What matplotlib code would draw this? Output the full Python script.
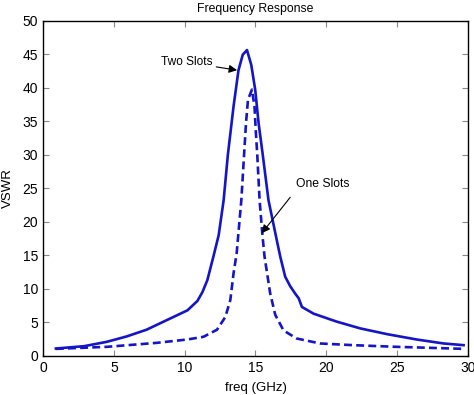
import matplotlib.pyplot as plt

plt.rcParams['font.family'] = ['Liberation Sans', 'DejaVu Sans']

# two slots (solid)
f_two = [0.9, 2.9, 4.5, 5.9, 7.3, 9.2, 10.2, 10.9, 11.25, 11.6, 12.05, 12.4,
         12.75, 13.05, 13.45, 13.8, 14.1, 14.4, 14.7, 14.98, 15.22, 15.5,
         15.92, 16.5, 16.75, 17.1, 17.45, 17.8, 18.05, 18.28, 19.1, 20.75,
         22.4, 24.3, 26.4, 28.3, 29.7]
vswr_two = [1.1, 1.45, 2.1, 2.9, 3.9, 5.8, 6.8, 8.2, 9.5, 11.3, 15.0, 18.0,
            23.2, 30.0, 37.2, 42.6, 44.9, 45.6, 43.4, 39.7, 34.7, 30.2,
            23.2, 17.3, 14.8, 11.8, 10.4, 9.3, 8.6, 7.3, 6.3, 5.1,
            4.1, 3.24, 2.44, 1.85, 1.6]

# one slot (dashed)
f_one = [0.9, 4.5, 8.05, 10.2, 11.33, 12.28, 12.87, 13.22, 13.45, 13.67,
         14.0, 14.2, 14.33, 14.47, 14.75, 14.93, 15.03, 15.12, 15.29, 15.5,
         15.64, 16.04, 16.4, 16.98, 17.9, 19.57, 21.9, 25.0, 29.7]
vswr_one = [1.05, 1.35, 1.95, 2.45, 2.85, 3.9, 5.8, 8.3, 12.3, 15.3,
            23.2, 30.2, 34.7, 38.2, 39.7, 37.2, 33.2, 30.2, 23.2, 17.8,
            14.8, 9.3, 6.1, 3.8, 2.6, 1.85, 1.6, 1.35, 1.05]

blue = '#1414c8'

fig = plt.figure(figsize=(4.74, 3.95), dpi=100)
ax = fig.add_axes([0.091, 0.099, 0.896, 0.849])
ax.plot(f_two, vswr_two, color=blue, lw=1.9)
ax.plot(f_one, vswr_one, color=blue, lw=1.9, ls=(0, (3.0, 1.6)))

ax.set_xlim(0, 30)
ax.set_ylim(0, 50)
ax.set_xticks(range(0, 31, 5))
ax.set_yticks(range(0, 51, 5))
ax.tick_params(direction='in', top=True, right=True, labelsize=10,
               length=4, color='#888888')
for s in ax.spines.values():
    s.set_linewidth(1.0)

ax.set_title('Frequency Response', fontsize=8.8, pad=6)
ax.set_xlabel('freq (GHz)', fontsize=9.5, labelpad=5)
ax.set_ylabel('VSWR', fontsize=9.5, labelpad=6)

ax.annotate('Two Slots', xy=(13.7, 42.6), xytext=(8.3, 43.8),
            fontsize=8.6, va='center', ha='left',
            arrowprops=dict(arrowstyle='-|>', color='black', lw=0.8,
                            shrinkA=1, shrinkB=0, mutation_scale=12))
ax.annotate('One Slots', xy=(15.45, 18.3), xytext=(17.85, 25.6),
            fontsize=8.7, va='center', ha='left',
            arrowprops=dict(arrowstyle='-|>', color='black', lw=0.8,
                            shrinkA=4, shrinkB=0, mutation_scale=12,
                            relpos=(0, 0)))

fig.savefig('out.png', dpi=100)
